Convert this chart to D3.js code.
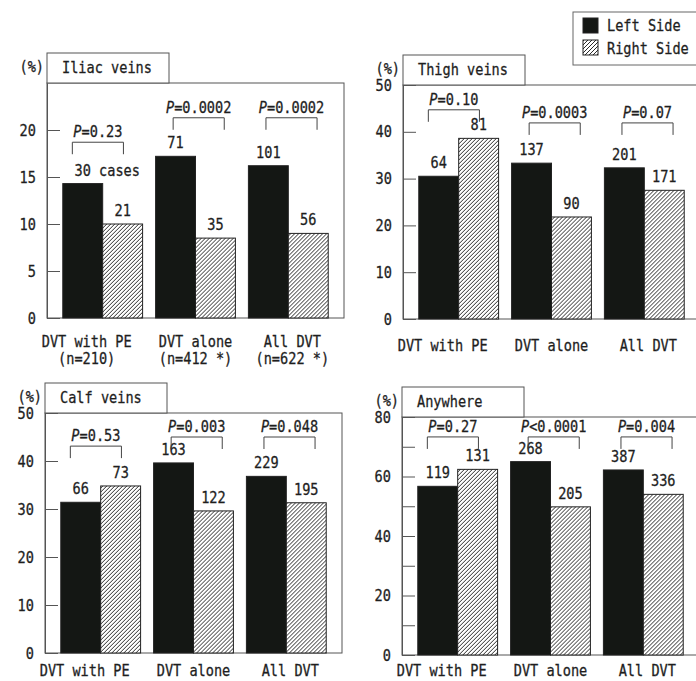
<!DOCTYPE html>
<html>
<head>
<meta charset="utf-8">
<script src="https://cdn.jsdelivr.net/npm/d3@7"></script>
<style>
  body { margin: 0; background: #fff; }
  text { font-family: "DejaVu Sans Mono", monospace; font-size: 16px; fill: #1e1e1e; stroke: #1e1e1e; stroke-width: 0.3px; }
</style>
</head>
<body>
<div id="chart"></div>
<script>
// categories and series
var groups = ['DVT with PE', 'DVT alone', 'All DVT'];
var groupN = ['(n=210)', '(n=412 *)', '(n=622 *)'];
var series = ['Left Side', 'Right Side'];

// percentages
var iliacLeft = [14.3, 17.2, 16.2];
var iliacRight = [10.0, 8.5, 9.0];
var thighLeft = [30.5, 33.3, 32.3];
var thighRight = [38.6, 21.8, 27.5];
var calfLeft = [31.4, 39.6, 36.8];
var calfRight = [34.8, 29.6, 31.3];
var anyLeft = [56.7, 65.0, 62.2];
var anyRight = [62.4, 49.8, 54.0];

// case counts printed above the bars
var iliacLeftN = [30, 71, 101];
var iliacRightN = [21, 35, 56];
var thighLeftN = [64, 137, 201];
var thighRightN = [81, 90, 171];
var calfLeftN = [66, 163, 229];
var calfRightN = [73, 122, 195];
var anyLeftN = [119, 268, 387];
var anyRightN = [131, 205, 336];

// p values (text after the italic P)
var iliacP = ['=0.23', '=0.0002', '=0.0002'];
var thighP = ['=0.10', '=0.0003', '=0.07'];
var calfP = ['=0.53', '=0.003', '=0.048'];
var anyP = ['=0.27', '<0.0001', '=0.004'];

// y ticks
var iliacTicks = [0, 5, 10, 15, 20];
var thighTicks = [0, 10, 20, 30, 40, 50];
var calfTicks = [0, 10, 20, 30, 40, 50];
var anyTicks = [0, 10, 20, 30, 40, 50, 60, 70, 80];

// bracket heights in % units
var iliacBracket = [18.7, 21.3, 21.3];
var thighBracket = [44.7, 41.9, 41.9];
var calfBracket = [43.1, 45, 45];
var anyBracket = [73.3, 73.3, 73.3];

var svgWidth = 696;
var svgHeight = 681;
var cw = 16 * 0.602 * 0.85; // char advance of scaled mono text

var panels = [
  { title: 'Iliac veins', left: 47, top: 83, bottom: 318, max: 25, ticks: iliacTicks, l: iliacLeft, r: iliacRight, ln: iliacLeftN, rn: iliacRightN, p: iliacP, br: iliacBracket, xlab: 29, showN: true },
  { title: 'Thigh veins', left: 403, top: 85, bottom: 319, max: 50, ticks: thighTicks, l: thighLeft, r: thighRight, ln: thighLeftN, rn: thighRightN, p: thighP, br: thighBracket, xlab: 32 },
  { title: 'Calf veins', left: 45, top: 413, bottom: 653, max: 50, ticks: calfTicks, l: calfLeft, r: calfRight, ln: calfLeftN, rn: calfRightN, p: calfP, br: calfBracket, xlab: 23 },
  { title: 'Anywhere', left: 402, top: 417, bottom: 655, max: 80, ticks: anyTicks, l: anyLeft, r: anyRight, ln: anyLeftN, rn: anyRightN, p: anyP, br: anyBracket, xlab: 21, every: 20 }
];

var plotWidth = 297;
var groupShift = [-8, 0, 0];
var labelShift = [-16, 0, 4];

var svg = d3.select('#chart')
  .append('svg')
  .attr('width', svgWidth)
  .attr('height', svgHeight);

var defs = svg.append('defs');
var hatch = defs.append('pattern')
  .attr('id', 'hatch')
  .attr('patternUnits', 'userSpaceOnUse')
  .attr('width', 4)
  .attr('height', 4);
hatch.append('rect').attr('width', 4).attr('height', 4).attr('fill', '#fff');
hatch.append('path')
  .attr('d', 'M-1,1 l2,-2 M0,4 l4,-4 M3,5 l2,-2')
  .attr('stroke', '#2a2a2a')
  .attr('stroke-width', 1);

// text helper: narrow tall mono glyphs
function addText(sel, x, y, str, anchor) {
  return sel.append('text')
    .attr('transform', `translate(${x},${y}) scale(0.85,1)`)
    .attr('text-anchor', anchor || 'middle')
    .text(str);
}

panels.forEach(function(pn, pi) {
  var g = svg.append('g');

  var y = d3.scaleLinear()
    .domain([0, pn.max])
    .range([pn.bottom, pn.top]);

  var x = d3.scaleBand()
    .domain(groups)
    .range([pn.left, pn.left + plotWidth])
    .paddingInner(0.14)
    .paddingOuter(0.17);

  var xs = d3.scaleBand()
    .domain(series)
    .range([0, x.bandwidth()]);

  // frame
  g.append('rect')
    .attr('x', pn.left)
    .attr('y', pn.top)
    .attr('width', plotWidth)
    .attr('height', pn.bottom - pn.top)
    .attr('fill', 'none')
    .attr('stroke', '#555')
    .attr('stroke-width', 1);

  // title box
  g.append('rect')
    .attr('x', pn.left)
    .attr('y', pn.top - 30)
    .attr('width', 122)
    .attr('height', 30)
    .attr('fill', '#fff')
    .attr('stroke', '#555');
  addText(g, pn.left + 15, pn.top - 10, pn.title, 'start');
  addText(g, pn.left - 3, pn.top - 11, '(%)', 'end');

  // y axis, ticks pointing inward
  var leftAxis = d3.axisLeft(y)
    .tickValues(pn.ticks)
    .tickSizeInner(-13)
    .tickSizeOuter(0)
    .tickPadding(13)
    .tickFormat(function(d) { return pn.every && d % pn.every ? '' : d; });

  var ax = g.append('g')
    .attr('transform', `translate(${pn.left},0)`)
    .call(leftAxis);
  ax.select('.domain').attr('stroke', '#555');
  ax.selectAll('line').attr('stroke', '#555');
  ax.selectAll('text')
    .attr('font-family', '"DejaVu Sans Mono", monospace')
    .attr('font-size', 16)
    .attr('fill', '#1e1e1e')
    .attr('transform', 'scale(0.85,1)');

  // bars
  var rows = groups.map(function(gr, i) {
    return [
      { g: gr, s: series[0], v: pn.l[i], n: pn.ln[i], i: i },
      { g: gr, s: series[1], v: pn.r[i], n: pn.rn[i], i: i }
    ];
  });

  var groupSel = g.selectAll('.grp')
    .data(rows)
    .enter()
    .append('g')
    .attr('class', 'grp')
    .attr('transform', (d, i) => `translate(${x(groups[i])},0)`);

  groupSel.selectAll('rect')
    .data(d => d)
    .enter()
    .append('rect')
    .attr('x', d => xs(d.s))
    .attr('y', d => y(d.v))
    .attr('width', xs.bandwidth())
    .attr('height', d => y(0) - y(d.v))
    .attr('fill', d => d.s === series[0] ? '#141714' : 'url(#hatch)')
    .attr('stroke', '#222')
    .attr('stroke-width', 1);

  // count labels, the number centred on the bar
  groupSel.each(function(d) {
    var gg = d3.select(this);
    d.forEach(function(b, si) {
      var cx = xs(b.s) + xs.bandwidth() / 2;
      var numStr = String(b.n);
      var str = numStr + (pi === 0 && b.i === 0 && si === 0 ? ' cases' : '');
      addText(gg, cx - numStr.length * cw / 2, y(b.v) - 8, str, 'start');
    });
  });

  // p value brackets
  groups.forEach(function(gr, i) {
    var bx0 = x(gr) + x.bandwidth() * 0.22 + groupShift[i];
    var bx1 = x(gr) + x.bandwidth() * 0.86 + groupShift[i];
    var by = y(pn.br[i]);
    g.append('path')
      .attr('d', `M${bx0},${by + 12}V${by}H${bx1}V${by + 12}`)
      .attr('fill', 'none')
      .attr('stroke', '#444')
      .attr('stroke-width', 1);
    var t = g.append('text')
      .attr('transform', `translate(${(bx0 + bx1) / 2},${by - 5}) scale(0.85,1)`)
      .attr('text-anchor', 'middle');
    t.append('tspan').attr('font-style', 'italic').text('P');
    t.append('tspan').text(pn.p[i]);

    // category labels
    var lx = x(gr) + x.bandwidth() / 2 + labelShift[i];
    addText(g, lx, pn.bottom + pn.xlab, gr);
    if (pn.showN) addText(g, lx, pn.bottom + pn.xlab + 17, groupN[i]);
  });
});

// legend
var legend = svg.append('g');
legend.append('rect')
  .attr('x', 573)
  .attr('y', 12)
  .attr('width', 130)
  .attr('height', 53)
  .attr('fill', '#fff')
  .attr('stroke', '#666');
series.forEach(function(s, i) {
  legend.append('rect')
    .attr('x', 583)
    .attr('y', 18 + i * 22)
    .attr('width', 15)
    .attr('height', 15)
    .attr('fill', i === 0 ? '#141714' : 'url(#hatch)')
    .attr('stroke', '#222');
  addText(legend, 607, 31 + i * 23, s, 'start');
});
</script>
</body>
</html>
